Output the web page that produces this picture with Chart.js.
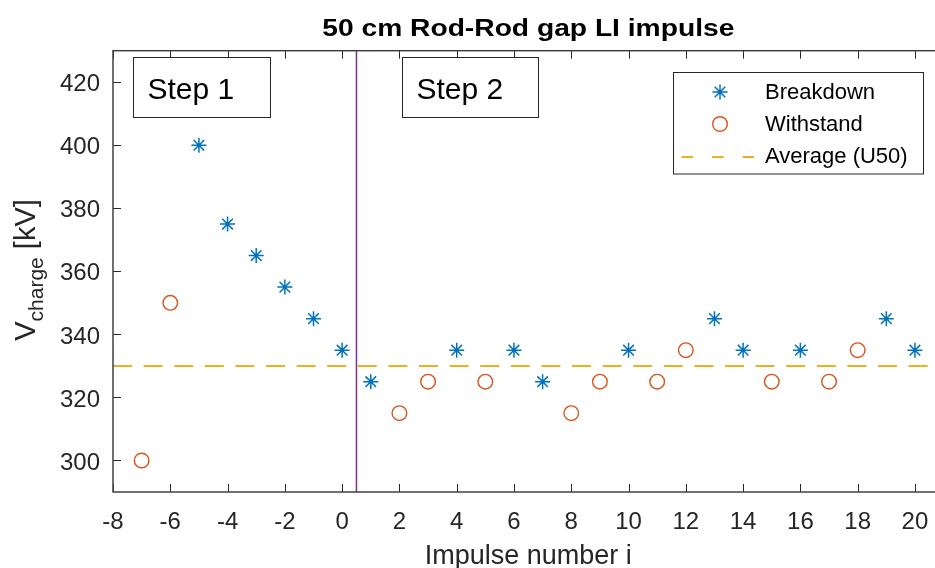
<!DOCTYPE html>
<html>
<head>
<meta charset="utf-8">
<script src="https://cdn.jsdelivr.net/npm/chart.js@4.4.1/dist/chart.umd.min.js"></script>
<style>
  html, body { margin: 0; padding: 0; background: #ffffff; overflow: hidden; }
  canvas { display: block; }
</style>
</head>
<body>
<canvas id="chart" width="935" height="568"></canvas>
<script>
// Impulse sequence of the up-and-down test (step 1: -7..0, step 2: 1..20)
const breakdownImpulse = [-5, -4, -3, -2, -1, 0, 1, 4, 6, 7, 10, 13, 14, 16, 19, 20];
const breakdownKV      = [400, 375, 365, 355, 345, 335, 325, 335, 335, 325, 335, 345, 335, 335, 345, 335];
const withstandImpulse = [-7, -6, 2, 3, 5, 8, 9, 11, 12, 15, 17, 18];
const withstandKV      = [300, 350, 315, 325, 325, 315, 325, 325, 335, 325, 325, 335];
const averageKV = 330;          // U50
const stepBoundary = 0.5;       // separates step 1 and step 2
const xRange = [-8, 21];
const yRange = [290, 430];
const xTickValues = [-8, -6, -4, -2, 0, 2, 4, 6, 8, 10, 12, 14, 16, 18, 20];
const yTickValues = [300, 320, 340, 360, 380, 400, 420];
const seriesNames = ['Breakdown', 'Withstand', 'Average (U50)'];
const stepLabels = ['Step 1', 'Step 2'];
const titleText = '50 cm Rod-Rod gap LI impulse';

const FONT = '"Liberation Sans", Arial, Helvetica, sans-serif';
const AXIS_COLOR = '#262626';
const BLUE = '#0072BD', ORANGE = '#D95319', YELLOW = '#EDB120', PURPLE = '#7E2F8E';

function toPoints(xs, ys) { return xs.map((x, i) => ({ x: x, y: ys[i] })); }

// The axes box runs a little past the right edge of the canvas
const axesOverhang = {
  id: 'axesOverhang',
  afterLayout(chart) {
    const x = chart.scales.x;
    const extra = 943.6 - chart.chartArea.right;
    x.right += extra;
    x.width += extra;
    chart.chartArea.right += extra;
    chart.chartArea.width += extra;
    x.configure();
  }
};

// Box frame with inward tick marks on all sides
const axesFrame = {
  id: 'axesFrame',
  afterDatasetsDraw(chart) {
    const { ctx, chartArea: a, scales: { x, y } } = chart;
    const len = 8;
    ctx.save();
    ctx.strokeStyle = AXIS_COLOR;
    ctx.lineWidth = 1;
    ctx.beginPath();
    x.ticks.forEach(t => {
      const px = Math.round(x.getPixelForValue(t.value)) + 0.5;
      ctx.moveTo(px, a.bottom); ctx.lineTo(px, a.bottom - len);
      ctx.moveTo(px, a.top); ctx.lineTo(px, a.top + len);
    });
    y.ticks.forEach(t => {
      const py = Math.round(y.getPixelForValue(t.value)) + 0.5;
      ctx.moveTo(a.left, py); ctx.lineTo(a.left + len, py);
      ctx.moveTo(a.right, py); ctx.lineTo(a.right - len, py);
    });
    ctx.stroke();
    ctx.strokeStyle = '#404040';
    ctx.lineWidth = 1.5;
    ctx.strokeRect(a.left, a.top, a.right - a.left, a.bottom - a.top);
    ctx.restore();
  }
};

function drawMarker(ctx, style, cx, cy, r) {
  ctx.beginPath();
  if (style === 'star') {
    for (let k = 0; k < 4; k++) {
      const ang = k * Math.PI / 4;
      const dx = Math.cos(ang) * r, dy = Math.sin(ang) * r;
      ctx.moveTo(cx - dx, cy - dy); ctx.lineTo(cx + dx, cy + dy);
    }
  } else {
    ctx.arc(cx, cy, r, 0, Math.PI * 2);
  }
  ctx.stroke();
}

// Title, step text boxes, legend and the y-axis label with subscript
const annotations = {
  id: 'annotations',
  afterDraw(chart) {
    const { ctx, chartArea: area } = chart;
    const ds = chart.data.datasets;
    ctx.save();

    // title, centred over the axes, in a wide bold face
    ctx.save();
    ctx.font = 'bold 23.5px ' + FONT;
    ctx.textAlign = 'center';
    ctx.textBaseline = 'alphabetic';
    ctx.fillStyle = '#000000';
    ctx.translate((area.left + area.right) / 2, 35.5);
    ctx.scale(1.2, 1);
    ctx.fillText(titleText, 0, 0);
    ctx.restore();

    // step boxes
    const boxes = [
      { text: stepLabels[0], left: 133.5, top: 57.5, width: 137, height: 60 },
      { text: stepLabels[1], left: 402.5, top: 57.5, width: 136, height: 60 }
    ];
    ctx.font = '30px ' + FONT;
    ctx.textBaseline = 'alphabetic';
    ctx.textAlign = 'left';
    boxes.forEach(b => {
      ctx.fillStyle = '#ffffff';
      ctx.fillRect(b.left, b.top, b.width, b.height);
      ctx.strokeStyle = '#262626';
      ctx.lineWidth = 1;
      ctx.strokeRect(b.left, b.top, b.width, b.height);
      ctx.fillStyle = '#000000';
      ctx.fillText(b.text, b.left + 14, b.top + 41);
    });

    // legend
    const lg = { left: 673.5, top: 72.5, width: 250, height: 101.5 };
    ctx.fillStyle = '#ffffff';
    ctx.fillRect(lg.left, lg.top, lg.width, lg.height);
    ctx.strokeStyle = '#262626';
    ctx.lineWidth = 1;
    ctx.strokeRect(lg.left, lg.top, lg.width, lg.height);
    const rows = [92, 124, 156];
    ctx.font = '22px ' + FONT;
    ctx.textBaseline = 'middle';
    seriesNames.forEach((name, i) => {
      const d = ds[i];
      const cy = rows[i];
      ctx.strokeStyle = d.borderColor;
      ctx.lineWidth = d.borderWidth;
      if (i < 2) {
        drawMarker(ctx, d.pointStyle, 720, cy, d.pointRadius);
      } else {
        ctx.setLineDash([11.5, 19.1]);
        ctx.beginPath();
        ctx.moveTo(681.5, cy + 1); ctx.lineTo(757, cy + 1);
        ctx.stroke();
        ctx.setLineDash([]);
      }
      ctx.fillStyle = '#000000';
      ctx.fillText(name, 765, cy + 1);
    });

    // y-axis label: V_charge [kV]
    const mainFont = '29px ' + FONT, subFont = '21px ' + FONT;
    ctx.font = mainFont;
    const wV = ctx.measureText('V').width;
    const wU = ctx.measureText(' [kV]').width;
    ctx.font = subFont;
    const wS = ctx.measureText('charge').width;
    const total = wV + wS + wU;
    ctx.translate(34.5, 270);
    ctx.rotate(-Math.PI / 2);
    ctx.fillStyle = AXIS_COLOR;
    ctx.textBaseline = 'alphabetic';
    const x0 = -total / 2;
    ctx.font = mainFont; ctx.fillText('V', x0, 0);
    ctx.font = subFont;  ctx.fillText('charge', x0 + wV, 8);
    ctx.font = mainFont; ctx.fillText(' [kV]', x0 + wV + wS, 0);
    ctx.restore();
  }
};

new Chart(document.getElementById('chart'), {
  type: 'scatter',
  data: {
    datasets: [
      {
        label: seriesNames[0],
        data: toPoints(breakdownImpulse, breakdownKV),
        pointStyle: 'star', pointRadius: 7.5, borderWidth: 1.5,
        borderColor: BLUE, backgroundColor: BLUE
      },
      {
        label: seriesNames[1],
        data: toPoints(withstandImpulse, withstandKV),
        pointStyle: 'circle', pointRadius: 7.3, borderWidth: 1.4,
        borderColor: ORANGE, backgroundColor: 'rgba(0,0,0,0)'
      },
      {
        label: seriesNames[2],
        data: [{ x: xRange[0], y: averageKV }, { x: xRange[1], y: averageKV }],
        showLine: true, pointRadius: 0, borderWidth: 2,
        borderColor: YELLOW, borderDash: [19, 11.6]
      },
      {
        label: 'step boundary',
        data: [{ x: stepBoundary, y: yRange[0] }, { x: stepBoundary, y: yRange[1] }],
        showLine: true, pointRadius: 0, borderWidth: 1.5,
        borderColor: PURPLE
      }
    ]
  },
  options: {
    responsive: false,
    animation: false,
    events: [],
    layout: { padding: { left: 0, top: 50.7, right: 0, bottom: 0 } },
    plugins: {
      legend: { display: false },
      tooltip: { enabled: false },
      title: { display: false }
    },
    scales: {
      x: {
        type: 'linear',
        min: xRange[0], max: xRange[1],
        afterBuildTicks: s => { s.ticks = xTickValues.map(v => ({ value: v })); },
        afterFit: s => { s.height = 76; s.paddingLeft = 0; s.paddingRight = 0; },
        grid: { display: false, drawTicks: false },
        border: { display: false },
        ticks: {
          font: { family: FONT, size: 24 }, color: AXIS_COLOR,
          padding: 16, maxRotation: 0, autoSkip: false,
          callback: v => String(v)
        },
        title: {
          display: true, text: 'Impulse number i', color: AXIS_COLOR,
          font: { family: FONT, size: 27, lineHeight: 0.85 }, padding: 0
        }
      },
      y: {
        type: 'linear',
        min: yRange[0], max: yRange[1],
        afterBuildTicks: s => { s.ticks = yTickValues.map(v => ({ value: v })); },
        afterFit: s => { s.width = 113; },
        grid: { display: false, drawTicks: false },
        border: { display: false },
        ticks: {
          font: { family: FONT, size: 24 }, color: AXIS_COLOR,
          padding: 13, labelOffset: 2.5, autoSkip: false,
          callback: v => String(v)
        }
      }
    }
  },
  plugins: [axesOverhang, axesFrame, annotations]
});
</script>
</body>
</html>
